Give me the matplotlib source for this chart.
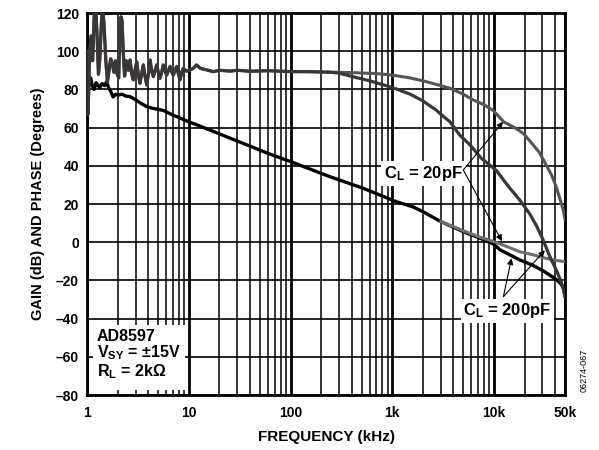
import numpy as np
import matplotlib
matplotlib.use("Agg")
import matplotlib.pyplot as plt
from matplotlib.ticker import FixedLocator, NullFormatter
from matplotlib.patches import Rectangle

plt.rcParams['font.family'] = ['Liberation Sans', 'DejaVu Sans']
plt.rcParams['font.weight'] = 'bold'
plt.rcParams['mathtext.fontset'] = 'custom'
plt.rcParams['mathtext.rm'] = 'Liberation Sans:bold'
plt.rcParams['mathtext.bf'] = 'Liberation Sans:bold'
plt.rcParams['mathtext.it'] = 'Liberation Sans:bold'

# ---------------- data ----------------
# common noisy low-frequency phase (both loads)
phase_lf_freq = [1.0, 1.02, 1.05, 1.09, 1.13, 1.17, 1.21, 1.25, 1.29, 1.33, 1.38, 1.42,
                 1.47, 1.52, 1.58, 1.64, 1.70, 1.76, 1.83, 1.90, 1.97, 2.04, 2.10, 2.15,
                 2.20, 2.26, 2.33, 2.42, 2.54, 2.64, 2.74, 2.84, 2.95, 3.07, 3.18, 3.30,
                 3.43, 3.56, 3.70, 3.85, 4.00, 4.15, 4.30, 4.47, 4.65, 4.82, 5.00, 5.20,
                 5.40, 5.60, 5.80, 6.05, 6.30, 6.52, 6.80, 7.03, 7.30, 7.59, 7.90, 8.18,
                 8.50, 8.81, 9.50, 10.3, 11.0, 11.9, 13.0, 15.0, 17.4, 20.0, 25.4, 30.0,
                 40.0, 60.0, 100.0, 150.0, 250.0]
phase_lf = [100, 67, 95, 108, 95, 118, 124, 108, 88, 96, 115, 124,
            112, 96, 84, 90, 96, 94, 89, 95, 88, 86, 110, 118,
            116, 100, 87, 95, 90, 95.4, 88, 85, 90, 94.5, 88, 83.2,
            88, 92.8, 87, 82.3, 88, 95.4, 90, 86.7, 90, 92.8, 89, 85.8,
            89, 92.8, 90, 87.5, 90, 92, 89, 87.5, 90, 92, 88, 85,
            89, 91, 89.5, 90.2, 91, 92.8, 91, 90.2, 89.3, 90, 89.6, 90,
            89.5, 89.8, 89.3, 89.3, 89.0]

# phase tails above 250 Hz
phase20_freq = [400, 700, 1000, 1500, 2000, 3000, 3700, 5000, 6300, 8000, 9800, 12500,
                16000, 19400, 22600, 28000, 33000, 37000, 41000, 45000, 48000, 50000]
phase20 = [88.8, 88.3, 87.5, 86, 84.5, 82, 80.6, 77.5, 74.4, 72, 69, 63,
           60, 57, 53, 47, 40, 35, 29, 22, 17, 12]

phase200_freq = [300, 400, 600, 1000, 1500, 2000, 2730, 3000, 3700, 4630, 5800, 7500,
                 10600, 14000, 18000, 22400, 26300, 30000, 35500, 41400, 45300, 48000, 50000]
phase200 = [88.5, 86.8, 84.5, 81, 77.5, 74, 69, 67, 63, 56, 51, 44,
            37.5, 29, 22, 15, 8.5, 2, -7.5, -15, -20, -24, -28.5]

# common gain (both loads) up to 3 kHz
gain_lf_freq = [1.0, 1.02, 1.05, 1.08, 1.12, 1.17, 1.22, 1.28, 1.33, 1.40, 1.48, 1.55,
                1.62, 1.70, 1.80, 1.90, 2.0, 2.2, 2.4, 2.64, 2.9, 3.3, 3.85, 4.5,
                5.6, 7.0, 8.2, 10, 11.9, 17.4, 23.5, 37, 60, 100, 244, 519, 757,
                1100, 1600, 2000, 3000]
gain_lf = [78, 84, 82, 86, 82, 80, 83.5, 82, 81, 83, 82, 84,
           81, 79, 76, 77.5, 77, 77.5, 76.5, 76.2, 75, 73, 71, 70,
           69, 66.5, 65, 63, 61.5, 58, 55.2, 51, 46.5, 42.2, 34.3, 28.2, 24.7,
           21.2, 18.5, 16, 10.8]

gain20_freq = [5000, 7000, 10000, 13000, 18000, 24000, 31700, 40000, 50000]
gain20 = [6, 3, 0.3, -2, -5, -6.5, -8.3, -9.5, -10.2]

gain200_freq = [5000, 7000, 9800, 11500, 18000, 24000, 31700, 41000, 46000, 48500, 50000]
gain200 = [5.5, 2.5, -0.8, -4, -9.3, -12, -15.5, -19.5, -22, -24.5, -28]

xtick_vals = [1, 10, 100, 1000, 10000, 50000]
xtick_labels = ['1', '10', '100', '1k', '10k', '50k']
ytick_vals = [-80, -60, -40, -20, 0, 20, 40, 60, 80, 100, 120]
ytick_labels = ['–80', '–60', '–40', '–20', '0', '20', '40', '60', '80', '100', '120']

# ---------------- figure ----------------
fig = plt.figure(figsize=(5.99, 4.5), dpi=100)
ax = fig.add_axes([0.1456, 0.1222, 0.7976, 0.8489])
ax.set_xscale('log')
ax.set_xlim(1, 50000)
ax.set_ylim(-80, 120)

minor_pos = [m * 10 ** k for k in range(0, 5) for m in range(2, 10) if m * 10 ** k < 50000]
ax.xaxis.set_major_locator(FixedLocator(xtick_vals))
ax.xaxis.set_minor_locator(FixedLocator(minor_pos))
ax.xaxis.set_minor_formatter(NullFormatter())
ax.set_xticklabels(xtick_labels)
ax.set_yticks(ytick_vals)
ax.set_yticklabels(ytick_labels)
ax.grid(which='major', axis='x', color='black', lw=2.0)
ax.grid(which='minor', axis='x', color='black', lw=1.1)
ax.grid(which='major', axis='y', color='black', lw=1.2)
ax.set_axisbelow(True)
ax.tick_params(which='both', length=0, labelsize=10)
ax.tick_params(axis='x', pad=8)
ax.tick_params(axis='y', pad=6)
for sp in ax.spines.values():
    sp.set_linewidth(2.0)
    sp.set_color('black')

# curves
g_common_f = list(gain_lf_freq)
g_common_v = list(gain_lf)
ax.plot(g_common_f + gain200_freq, g_common_v + gain200, color='black', lw=2.4,
        solid_joinstyle='round', zorder=4)
ax.plot(g_common_f[-1:] + gain20_freq, g_common_v[-1:] + gain20, color='#6e6e6e', lw=2.2,
        solid_joinstyle='round', zorder=4)
ax.plot(list(phase_lf_freq) + phase20_freq, list(phase_lf) + phase20, color='#555555', lw=2.2,
        solid_joinstyle='round', zorder=4)
ax.plot(list(phase_lf_freq) + phase200_freq, list(phase_lf) + phase200, color='#3a3636', lw=2.3,
        solid_joinstyle='round', zorder=5)

# annotations
arrow = dict(arrowstyle='-|>', color='black', lw=0.8, mutation_scale=9, shrinkA=0, shrinkB=0)
ax.text(4950, 36, r'C$_\mathrm{L}$ = 20pF', fontsize=12, fontweight='bold', ha='right', va='center',
        bbox=dict(facecolor='white', edgecolor='none', pad=2), zorder=6)
ax.annotate('', xy=(12300, 63), xytext=(5000, 37.8), arrowprops=arrow, zorder=7)
ax.annotate('', xy=(12000, 0.5), xytext=(5000, 37.8), arrowprops=arrow, zorder=7)

ax.text(13600, -36, r'C$_\mathrm{L}$ = 200pF', fontsize=12, fontweight='bold', ha='center', va='center',
        bbox=dict(facecolor='white', edgecolor='none', pad=2), zorder=6)
ax.annotate('', xy=(14900, -8.4), xytext=(12400, -28.5), arrowprops=arrow, zorder=7)
ax.annotate('', xy=(31700, -4.2), xytext=(12400, -28.5), arrowprops=arrow, zorder=7)

# info box
ax.add_patch(Rectangle((0.012, 0.013), 0.193, 0.17, transform=ax.transAxes,
                       facecolor='white', edgecolor='none', zorder=3))
ax.text(0.0205, 0.142, 'AD8597', transform=ax.transAxes, fontsize=11.5, fontweight='bold',
        va='baseline', ha='left', zorder=6)
ax.text(0.0205, 0.0987, r'V$_\mathrm{SY}$ = ±15V', transform=ax.transAxes, fontsize=11.5,
        fontweight='bold', va='baseline', ha='left', zorder=6)
ax.text(0.0205, 0.0497, r'R$_\mathrm{L}$ = 2kΩ', transform=ax.transAxes, fontsize=11.5,
        fontweight='bold', va='baseline', ha='left', zorder=6)

ax.set_xlabel('FREQUENCY (kHz)', fontsize=11, fontweight='bold', labelpad=7)
ax.set_ylabel('GAIN (dB) AND PHASE (Degrees)', fontsize=10.5, fontweight='bold', labelpad=8)

fig.text(584 / 599, 1 - 370 / 450, '06274-067', rotation=90, fontsize=6.5, fontweight='normal',
         ha='center', va='center')

fig.savefig('out.png', dpi=100)
